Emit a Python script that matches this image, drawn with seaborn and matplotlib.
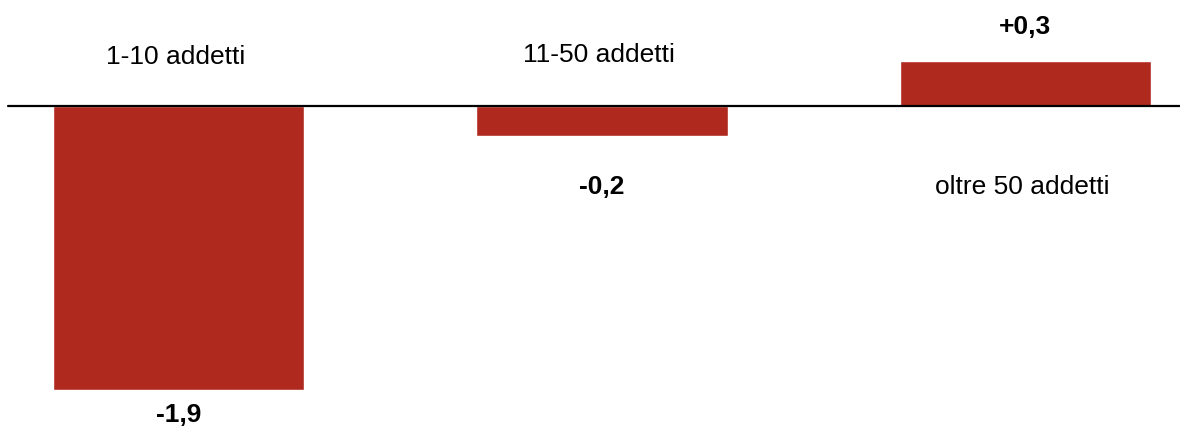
import matplotlib
matplotlib.use("Agg")
import matplotlib.pyplot as plt
import seaborn as sns
import pandas as pd

# Employment change by firm size class
categories = ["1-10 addetti", "11-50 addetti", "oltre 50 addetti"]
values = [-1.9, -0.2, 0.3]
value_labels = ["-1,9", "-0,2", "+0,3"]

sns.set_theme(style="white")
plt.rcParams["font.family"] = ["Liberation Sans", "DejaVu Sans"]

df = pd.DataFrame({"classe": categories, "variazione": values})

fig = plt.figure(figsize=(11.8, 4.3), dpi=100)
ax = fig.add_axes([0, 0, 1, 1])

bar_color = "#B0291F"
sns.barplot(data=df, x="classe", y="variazione", order=categories,
            color=bar_color, saturation=1, width=0.593, ax=ax)

ax.set_xlim(-0.4215, 2.365)
ax.set_ylim(-2.167, 0.709)
ax.axis("off")

# zero baseline
ax.axhline(0, xmin=8 / 1180, xmax=1.0, color="black", lw=1.6, zorder=3)

# category names sit beside the baseline, on the side opposite the bar
cat_offsets = [49, 51, -81]
for i, (name, off) in enumerate(zip(categories, cat_offsets)):
    ax.annotate(name, xy=(i, 0), xytext=(-3, off), textcoords="offset pixels",
                ha="center", va="center", fontsize=19, color="black")

# values at the bar ends, in bold
val_offsets = [-25, -51, 34]
for i, (v, lab, off) in enumerate(zip(values, value_labels, val_offsets)):
    ax.annotate(lab, xy=(i, v), xytext=(0, off), textcoords="offset pixels",
                ha="center", va="center", fontsize=19, fontweight="bold",
                color="black")

fig.savefig("out.png", dpi=100)
